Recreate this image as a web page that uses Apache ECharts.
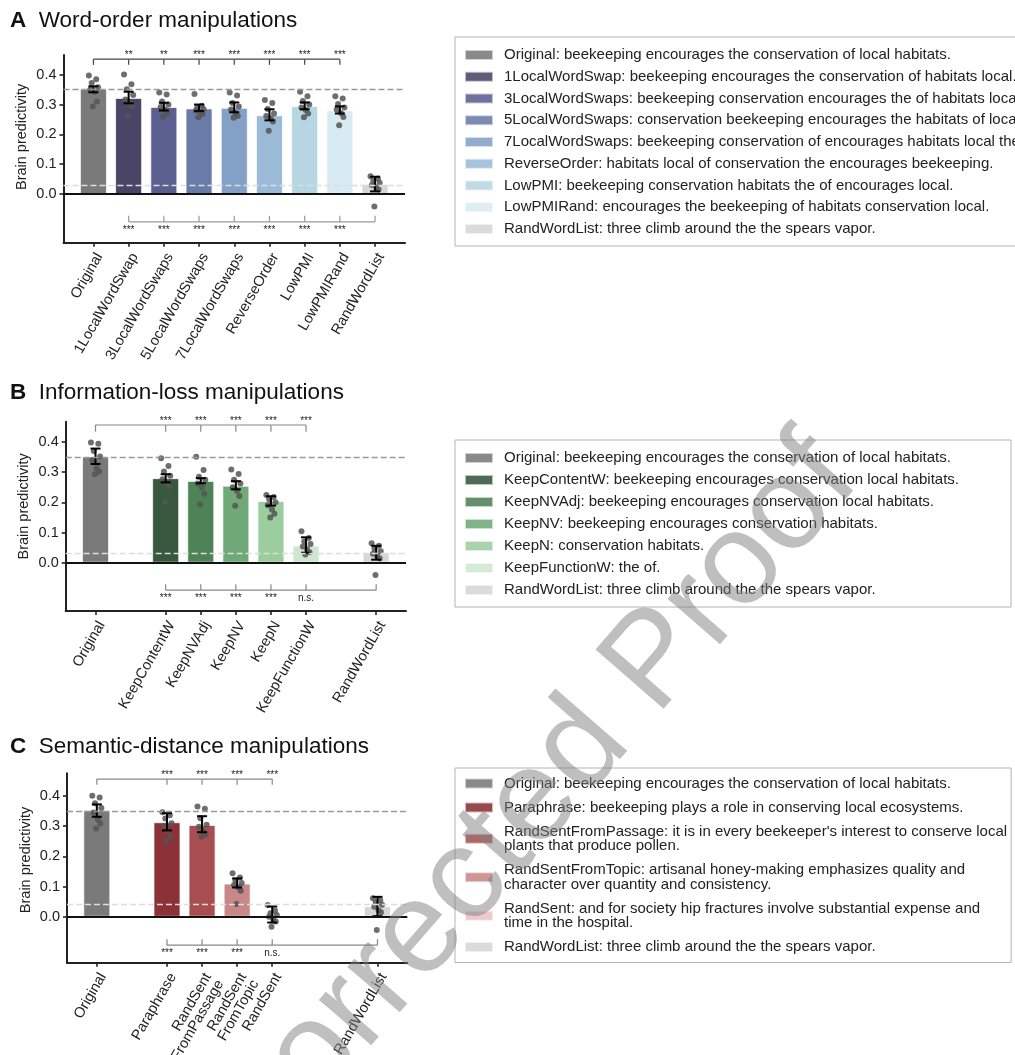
<!DOCTYPE html>
<html>
<head>
<meta charset="utf-8">
<title>Brain predictivity by manipulation</title>
<script src="https://cdn.jsdelivr.net/npm/echarts@6/dist/echarts.min.js"></script>
<style>
  html, body { margin: 0; padding: 0; background: #fff; }
  #main { width: 1015px; height: 1055px; }
</style>
</head>
<body>
<div id="main"></div>
<script>
var FONT = "'Liberation Sans', Arial, Helvetica, sans-serif";

// ---- A: word-order manipulations ----
var labelsA = ['Original', '1LocalWordSwap', '3LocalWordSwaps', '5LocalWordSwaps', '7LocalWordSwaps', 'ReverseOrder', 'LowPMI', 'LowPMIRand', 'RandWordList'];
var posA = [0, 1, 2, 3, 4, 5, 6, 7, 8];
var meanA = [0.352, 0.322, 0.292, 0.287, 0.289, 0.264, 0.295, 0.281, 0.034];
var loA = [0.341, 0.304, 0.280, 0.278, 0.274, 0.247, 0.284, 0.270, 0.009];
var hiA = [0.361, 0.343, 0.306, 0.300, 0.307, 0.284, 0.307, 0.294, 0.058];
var ptsA = [
    [0.397, 0.385, 0.372, 0.358, 0.350, 0.343, 0.310, 0.293],
    [0.401, 0.368, 0.351, 0.332, 0.317, 0.304, 0.293, 0.261],
    [0.340, 0.334, 0.310, 0.300, 0.292, 0.283, 0.272, 0.260],
    [0.335, 0.296, 0.290, 0.284, 0.280, 0.275, 0.268, 0.257],
    [0.340, 0.330, 0.305, 0.293, 0.283, 0.272, 0.262, 0.256],
    [0.315, 0.305, 0.285, 0.270, 0.262, 0.254, 0.243, 0.212],
    [0.343, 0.328, 0.312, 0.300, 0.290, 0.282, 0.270, 0.257],
    [0.328, 0.320, 0.302, 0.290, 0.283, 0.272, 0.258, 0.231],
    [0.060, 0.052, 0.045, 0.038, 0.030, 0.022, 0.015, -0.042]
];
var sigTopA = ['**', '**', '***', '***', '***', '***', '***'];
var sigBotA = ['***', '***', '***', '***', '***', '***', '***'];
var colorsA = ['#7a7a7a', '#4a4466', '#5b5f8f', '#6b7ba8', '#83a0c6', '#9bbad7', '#b7d6e3', '#d9ebf2', '#d6d6d6'];
var legendA = [
    'Original: beekeeping encourages the conservation of local habitats.',
    '1LocalWordSwap: beekeeping encourages the conservation of habitats local.',
    '3LocalWordSwaps: beekeeping conservation encourages the of habitats local.',
    '5LocalWordSwaps: conservation beekeeping encourages the habitats of local.',
    '7LocalWordSwaps: beekeeping conservation of encourages habitats local the.',
    'ReverseOrder: habitats local of conservation the encourages beekeeping.',
    'LowPMI: beekeeping conservation habitats the of encourages local.',
    'LowPMIRand: encourages the beekeeping of habitats conservation local.',
    'RandWordList: three climb around the the spears vapor.'
];

// ---- B: information-loss manipulations ----
var labelsB = ['Original', 'KeepContentW', 'KeepNVAdj', 'KeepNV', 'KeepN', 'KeepFunctionW', 'RandWordList'];
var posB = [0, 2, 3, 4, 5, 6, 8];
var meanB = [0.351, 0.280, 0.271, 0.255, 0.204, 0.057, 0.034];
var loB = [0.327, 0.266, 0.263, 0.243, 0.189, 0.033, 0.010];
var hiB = [0.378, 0.293, 0.280, 0.270, 0.220, 0.084, 0.056];
var ptsB = [
    [0.398, 0.394, 0.370, 0.352, 0.340, 0.313, 0.302, 0.293],
    [0.346, 0.320, 0.302, 0.288, 0.276, 0.262, 0.252, 0.202],
    [0.351, 0.307, 0.285, 0.275, 0.262, 0.250, 0.228, 0.193],
    [0.309, 0.294, 0.275, 0.262, 0.250, 0.238, 0.221, 0.189],
    [0.224, 0.218, 0.210, 0.200, 0.190, 0.176, 0.162, 0.150],
    [0.104, 0.082, 0.070, 0.062, 0.054, 0.045, 0.035, 0.027],
    [0.064, 0.056, 0.046, 0.038, 0.030, 0.022, 0.014, -0.041]
];
var sigTopB = ['***', '***', '***', '***', '***'];
var sigBotB = ['***', '***', '***', '***', 'n.s.'];
var colorsB = ['#7a7a7a', '#37573e', '#4e8257', '#6fa977', '#9ccd9f', '#cfe7d2', '#d6d6d6'];
var legendB = [
    'Original: beekeeping encourages the conservation of local habitats.',
    'KeepContentW: beekeeping encourages conservation local habitats.',
    'KeepNVAdj: beekeeping encourages conservation local habitats.',
    'KeepNV: beekeeping encourages conservation habitats.',
    'KeepN: conservation habitats.',
    'KeepFunctionW: the of.',
    'RandWordList: three climb around the the spears vapor.'
];

// ---- C: semantic-distance manipulations ----
var labelsC = ['Original', 'Paraphrase', 'RandSent\nFromPassage', 'RandSent\nFromTopic', 'RandSent', 'RandWordList'];
var posC = [0, 2, 3, 4, 5, 8];
var meanC = [0.353, 0.313, 0.304, 0.110, 0.004, 0.035];
var loC = [0.331, 0.286, 0.280, 0.097, -0.019, 0.002];
var hiC = [0.372, 0.343, 0.333, 0.127, 0.034, 0.066];
var ptsC = [
    [0.401, 0.395, 0.376, 0.360, 0.345, 0.323, 0.309, 0.292],
    [0.346, 0.336, 0.325, 0.310, 0.300, 0.282, 0.265, 0.249],
    [0.365, 0.358, 0.326, 0.305, 0.298, 0.282, 0.272, 0.265],
    [0.144, 0.130, 0.120, 0.112, 0.105, 0.098, 0.086, 0.042],
    [0.039, 0.020, 0.012, 0.006, 0.000, -0.008, -0.016, -0.033],
    [0.061, 0.055, 0.048, 0.040, 0.033, 0.022, 0.015, -0.044]
];
var sigTopC = ['***', '***', '***', '***'];
var sigBotC = ['***', '***', '***', 'n.s.'];
var colorsC = ['#7a7a7a', '#8b3137', '#a84e51', '#c88888', '#e7c3c5', '#d6d6d6'];
var legendC = [
    'Original: beekeeping encourages the conservation of local habitats.',
    'Paraphrase: beekeeping plays a role in conserving local ecosystems.',
    "RandSentFromPassage: it is in every beekeeper's interest to conserve local\nplants that produce pollen.",
    'RandSentFromTopic: artisanal honey-making emphasizes quality and\ncharacter over quantity and consistency.',
    'RandSent: and for society hip fractures involve substantial expense and\ntime in the hospital.',
    'RandWordList: three climb around the the spears vapor.'
];

var yTicks = [0, 0.1, 0.2, 0.3, 0.4];
// small fixed horizontal spread for the subject dots
var JIT = [-0.13, 0.08, -0.05, 0.13, -0.09, 0.03, 0.10, -0.02];

var panels = [
    {id: 'A', title: 'Word-order manipulations', labels: labelsA, pos: posA, mean: meanA, lo: loA, hi: hiA, pts: ptsA,
     sigTop: sigTopA, sigBot: sigBotA, colors: colorsA, legend: legendA,
     grid: {left: 63.5, top: 55, width: 341.5, height: 187.7}, y: [-0.163, 0.466], titleTop: 9,
     legendTop: 37, legendPad: [10, 40, 9, 9], legendLH: 16, legendGap: 5.75,
     brTop: [0.452, 0.433], brBot: [-0.093, -0.073], brTopColor: '#444', brBotColor: '#999', namePad: 24},
    {id: 'B', title: 'Information-loss manipulations', labels: labelsB, pos: posB, mean: meanB, lo: loB, hi: hiB, pts: ptsB,
     sigTop: sigTopB, sigBot: sigBotB, colors: colorsB, legend: legendB,
     grid: {left: 65.7, top: 421.7, width: 340.3, height: 189.3}, y: [-0.16, 0.467], titleTop: 381,
     legendTop: 440, legendPad: [10, 52, 9, 9], legendLH: 16, legendGap: 6,
     brTop: [0.456, 0.434], brBot: [-0.091, -0.071], brTopColor: '#888', brBotColor: '#888', namePad: 20},
    {id: 'C', title: 'Semantic-distance manipulations', labels: labelsC, pos: posC, mean: meanC, lo: loC, hi: hiC, pts: ptsC,
     sigTop: sigTopC, sigBot: sigBotC, colors: colorsC, legend: legendC,
     grid: {left: 67, top: 773.3, width: 340.3, height: 189.4}, y: [-0.152, 0.475], titleTop: 735,
     legendTop: 768, legendPad: [8, 4, 8, 9], legendLH: 14.5, legendGap: 9,
     brTop: [0.456, 0.437], brBot: [-0.094, -0.074], brTopColor: '#888', brBotColor: '#888', namePad: 16}
];

function renderErr(params, api) {
    var a = api.coord([api.value(0), api.value(1)]);
    var b = api.coord([api.value(0), api.value(2)]);
    var cap = 5;
    var st = {stroke: '#000', lineWidth: 2};
    return {type: 'group', children: [
        {type: 'line', shape: {x1: a[0], y1: a[1], x2: b[0], y2: b[1]}, style: st},
        {type: 'line', shape: {x1: a[0] - cap, y1: a[1], x2: a[0] + cap, y2: a[1]}, style: st},
        {type: 'line', shape: {x1: b[0] - cap, y1: b[1], x2: b[0] + cap, y2: b[1]}, style: st}
    ]};
}

// significance bracket: xs are tick positions, labels '' for the reference bar
function bracket(k, xs, labels, yLine, yTick, below, color) {
    return {
        type: 'custom', xAxisIndex: k, yAxisIndex: k, z: 5, silent: true,
        data: xs.map(function (x, i) { return [x, i]; }),
        renderItem: function (params, api) {
            var i = params.dataIndex;
            var h = api.coord([xs[i], yLine]);
            var t = api.coord([xs[i], yTick]);
            var st = {stroke: color, lineWidth: 1.2};
            var ch = [{type: 'line', shape: {x1: h[0], y1: h[1], x2: t[0], y2: t[1]}, style: st}];
            if (i > 0) {
                var ph = api.coord([xs[i - 1], yLine]);
                ch.push({type: 'line', shape: {x1: ph[0], y1: h[1], x2: h[0], y2: h[1]}, style: st});
            }
            if (labels[i]) {
                ch.push({type: 'text', x: h[0], y: below ? h[1] + 3 : h[1] + 1, style: {
                    text: labels[i], fontSize: 10, fontFamily: FONT, fill: '#222',
                    align: 'center', verticalAlign: below ? 'top' : 'bottom'}});
            }
            return {type: 'group', children: ch};
        }
    };
}

var option = {
    animation: false,
    backgroundColor: '#fff',
    textStyle: {fontFamily: FONT},
    title: [], grid: [], xAxis: [], yAxis: [], legend: [], series: [],
    graphic: [{
        type: 'text', x: 486, y: 858, rotation: 49 * Math.PI / 180, z: 100, silent: true,
        style: {text: 'Uncorrected Proof', fontSize: 131, fontFamily: FONT,
                fill: 'rgba(128,128,128,0.5)', align: 'center', verticalAlign: 'middle'}
    }]
};

panels.forEach(function (p, k) {
    option.title.push({
        text: '{b|' + p.id + '}  ' + p.title, left: 10, top: p.titleTop, padding: 0,
        textStyle: {fontFamily: FONT, fontSize: 22.5, fontWeight: 'normal', color: '#111',
                    rich: {b: {fontFamily: FONT, fontSize: 22.5, fontWeight: 'bold', color: '#111'}}}
    });
    option.grid.push(Object.assign({outerBoundsMode: 'none', containLabel: false}, p.grid));
    option.xAxis.push({
        type: 'value', gridIndex: k, min: -0.85, max: 8.85,
        splitLine: {show: false},
        axisLine: {onZero: false, lineStyle: {color: '#222', width: 2}},
        axisTick: {customValues: p.pos, length: 4, lineStyle: {color: '#222', width: 1.6}},
        axisLabel: {customValues: p.pos, rotate: 60, margin: 8, verticalAlign: 'top',
                    color: '#222', fontSize: 14.5, lineHeight: 14, fontFamily: FONT,
                    formatter: function (v) { return p.labels[p.pos.indexOf(Math.round(v))]; }}
    });
    option.yAxis.push({
        type: 'value', gridIndex: k, min: p.y[0], max: p.y[1],
        name: 'Brain predictivity', nameLocation: 'middle', nameGap: 34,
        nameTextStyle: {fontSize: 14.5, color: '#222', fontFamily: FONT, padding: [0, 0, 0, p.namePad]},
        splitLine: {show: false},
        axisLine: {show: true, onZero: false, lineStyle: {color: '#222', width: 2}},
        axisTick: {show: true, customValues: yTicks, length: 4, lineStyle: {color: '#222', width: 1.6}},
        axisLabel: {customValues: yTicks, margin: 7, fontSize: 14.5, color: '#222', fontFamily: FONT,
                    formatter: function (v) { return v.toFixed(1); }}
    });

    var names = [];
    p.labels.forEach(function (lab, i) {
        var nm = p.id + i;
        names.push(nm);
        option.series.push({
            type: 'bar', name: nm, xAxisIndex: k, yAxisIndex: k, silent: true,
            data: [[p.pos[i], p.mean[i]]], barWidth: 27, barGap: '-100%',
            itemStyle: {color: p.colors[i], borderColor: 'rgba(255,255,255,0.7)', borderWidth: 1}
        });
    });

    var last = p.mean.length - 1;
    option.series.push({
        type: 'scatter', xAxisIndex: k, yAxisIndex: k, z: 3, silent: true, symbolSize: 6,
        itemStyle: {color: '#555', opacity: 0.85},
        data: p.pts.reduce(function (acc, arr, i) {
            return acc.concat(arr.map(function (v, j) { return [p.pos[i] + JIT[j % JIT.length], v]; }));
        }, []),
        markLine: {
            silent: true, symbol: ['none', 'none'], label: {show: false},
            data: [
                {yAxis: p.mean[0], lineStyle: {color: '#999', width: 1.3, type: [6, 3]}},
                {yAxis: p.mean[last], lineStyle: {color: '#ddd', width: 1.3, type: [6, 3]}},
                {yAxis: 0, lineStyle: {color: '#111', width: 2, type: 'solid'}}
            ]
        }
    });

    option.series.push({
        type: 'custom', xAxisIndex: k, yAxisIndex: k, z: 4, silent: true, renderItem: renderErr,
        data: p.pos.map(function (x, i) { return [x, p.lo[i], p.hi[i]]; })
    });

    var mid = p.pos.slice(1, -1);
    option.series.push(bracket(k, [p.pos[0]].concat(mid), [''].concat(p.sigTop),
        p.brTop[0], p.brTop[1], false, p.brTopColor));
    option.series.push(bracket(k, mid.concat([p.pos[last]]), p.sigBot.concat(['']),
        p.brBot[0], p.brBot[1], true, p.brBotColor));

    option.legend.push({
        orient: 'vertical', left: 455, top: p.legendTop, padding: p.legendPad,
        data: names, selectedMode: false, icon: 'rect', itemWidth: 28, itemHeight: 10, itemGap: p.legendGap,
        borderColor: '#b3b3b3', borderWidth: 1, borderRadius: 0,
        itemStyle: {opacity: 0.88},
        textStyle: {fontSize: 15, lineHeight: p.legendLH, color: '#222', fontFamily: FONT, padding: [0, 0, 0, 6]},
        formatter: function (name) { return p.legend[names.indexOf(name)]; }
    });
});

var chart = echarts.init(document.getElementById('main'), null, {renderer: 'canvas'});
chart.setOption(option);
</script>
</body>
</html>
